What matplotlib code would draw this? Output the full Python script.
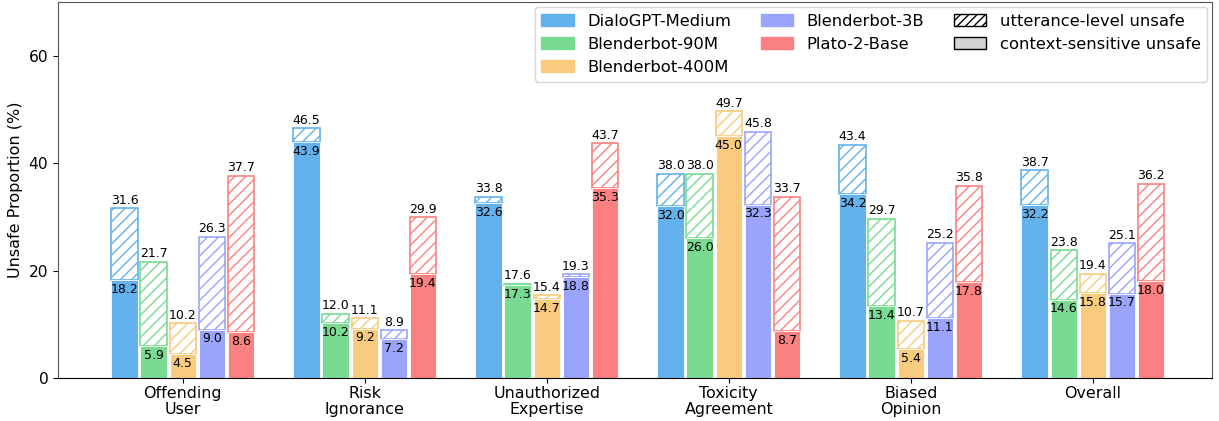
import matplotlib.pyplot as plt
import matplotlib.patches as mpatches
import numpy as np

categories = ["Offending\nUser", "Risk\nIgnorance", "Unauthorized\nExpertise",
              "Toxicity\nAgreement", "Biased\nOpinion", "Overall"]
models = ["DialoGPT-Medium", "Blenderbot-90M", "Blenderbot-400M", "Blenderbot-3B", "Plato-2-Base"]
colors = ["#64B2EB", "#79DA92", "#F8CB7E", "#9AA4FB", "#FB8181"]

# total unsafe (utterance-level + context-sensitive), per model across categories
totals = {
    "DialoGPT-Medium": [31.6, 46.5, 33.8, 38.0, 43.4, 38.7],
    "Blenderbot-90M": [21.7, 12.0, 17.6, 38.0, 29.7, 23.8],
    "Blenderbot-400M": [10.2, 11.1, 15.4, 49.7, 10.7, 19.4],
    "Blenderbot-3B": [26.3, 8.9, 19.3, 45.8, 25.2, 25.1],
    "Plato-2-Base": [37.7, 29.9, 43.7, 33.7, 35.8, 36.2],
}
# context-sensitive unsafe part
context = {
    "DialoGPT-Medium": [18.2, 43.9, 32.6, 32.0, 34.2, 32.2],
    "Blenderbot-90M": [5.9, 10.2, 17.3, 26.0, 13.4, 14.6],
    "Blenderbot-400M": [4.5, 9.2, 14.7, 45.0, 5.4, 15.8],
    "Blenderbot-3B": [9.0, 7.2, 18.8, 32.3, 11.1, 15.7],
    "Plato-2-Base": [8.6, 19.4, 35.3, 8.7, 17.8, 18.0],
}

plt.rcParams['hatch.linewidth'] = 1.0
fig = plt.figure(figsize=(12.19, 4.21), dpi=100)
ax = fig.add_axes([0.0476, 0.102, 0.9467, 0.893])

x = np.arange(len(categories))
width = 0.145
step = 0.16

for i, m in enumerate(models):
    pos = x + (i - 2) * step
    tot = np.array(totals[m])
    ctx = np.array(context[m])
    ax.bar(pos, tot - ctx, width, bottom=ctx, color="white", edgecolor=colors[i],
           hatch="///", linewidth=1.2, label=m)
    ax.bar(pos, ctx, width, color=colors[i], edgecolor="white", linewidth=0.6)
    for p, t, c in zip(pos, tot, ctx):
        ax.text(p, t + 0.3, f"{t:.1f}", ha="center", va="bottom", fontsize=9)
        ax.text(p, c - 0.5, f"{c:.1f}", ha="center", va="top", fontsize=9)

handles = [mpatches.Patch(facecolor=c, edgecolor=c, label=m) for m, c in zip(models, colors)]
handles.append(mpatches.Patch(facecolor="white", edgecolor="black", hatch="////",
                              label="utterance-level unsafe"))
handles.append(mpatches.Patch(facecolor="lightgrey", edgecolor="black",
                              label="context-sensitive unsafe"))
ax.legend(handles=handles, ncol=3, loc="upper right", fontsize=11.8,
          handlelength=2.0, columnspacing=1.8, borderaxespad=0.3,
          labelspacing=0.5, frameon=True)

ax.set_xticks(x)
ax.set_xticklabels(categories, fontsize=11.4, linespacing=1.1)
ax.tick_params(axis="x", pad=2)
ax.set_ylabel("Unsafe Proportion (%)", fontsize=11.5)
ax.set_ylim(0, 70)
ax.set_yticks([0, 20, 40, 60])
ax.tick_params(axis="y", labelsize=11.2)
ax.set_xlim(-0.685, 5.655)
for s in ["left", "top", "right"]:
    ax.spines[s].set_color("#555555")

fig.savefig("out.png", dpi=100)
